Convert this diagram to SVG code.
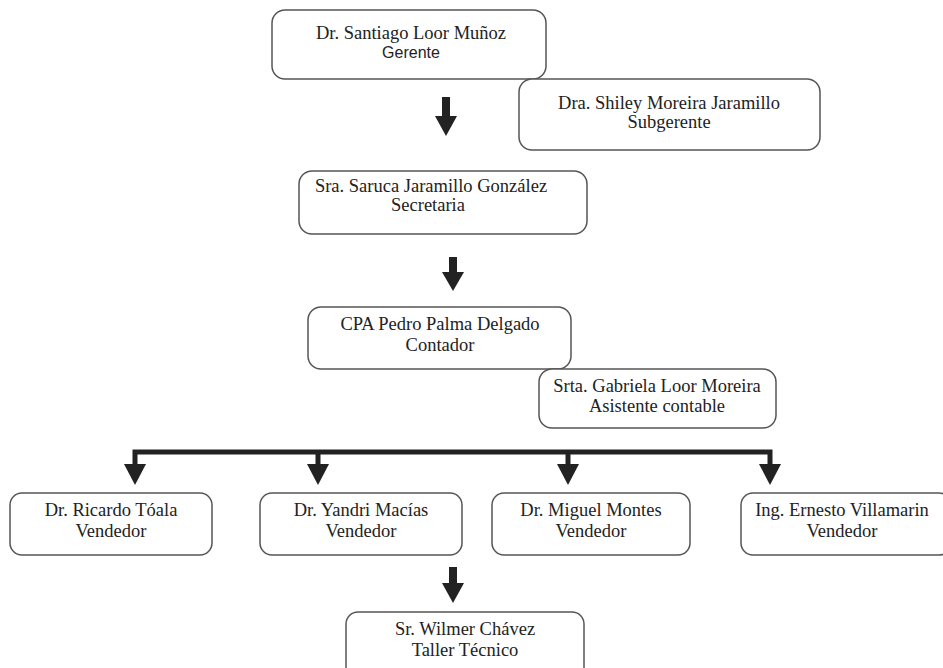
<svg xmlns="http://www.w3.org/2000/svg" width="943" height="668" viewBox="0 0 943 668">
<defs>
<style>
.box{fill:#fff;stroke:#555;stroke-width:1.5}
.t{font-family:"Liberation Serif","Times New Roman",serif;font-size:18.5px;fill:#222;text-anchor:middle}
.s{font-family:"Liberation Sans",Arial,sans-serif;font-size:16px;fill:#222;text-anchor:middle}
.ln{stroke:#222;stroke-width:5;fill:none}
.ar{fill:#222}
</style>
</defs>
<rect width="943" height="668" fill="#fff"/>
<g id="connectors">
<g id="a1"><rect class="ar" x="442" y="97" width="8" height="20"/><polygon class="ar" points="435,116 457,116 446,136"/></g>
<g id="a2"><rect class="ar" x="449" y="257" width="8" height="16"/><polygon class="ar" points="442,272 464,272 453,291"/></g>
<path class="ln" d="M135,465 V452 H770 V465"/>
<path class="ln" d="M318,452 V465 M568,452 V465"/>
<polygon class="ar" points="124,464 146,464 135,485"/>
<polygon class="ar" points="307,464 329,464 318,485"/>
<polygon class="ar" points="557,464 579,464 568,485"/>
<polygon class="ar" points="759,464 781,464 770,485"/>
<g id="a3"><rect class="ar" x="449" y="567" width="8" height="17"/><polygon class="ar" points="442,583 464,583 453,603"/></g>
</g>
<g id="gerente"><rect class="box" x="272" y="10" width="274" height="69" rx="13"/><text class="t" x="411" y="39">Dr. Santiago Loor Muñoz</text><text class="s" x="411" y="58">Gerente</text></g>
<g id="subgerente"><rect class="box" x="519" y="79" width="301" height="71" rx="13"/><text class="t" x="669" y="109">Dra. Shiley Moreira Jaramillo</text><text class="t" x="669" y="128">Subgerente</text></g>
<g id="secretaria"><rect class="box" x="299" y="171" width="288" height="63" rx="13"/><text class="t" x="431" y="192">Sra. Saruca Jaramillo González</text><text class="t" x="428" y="211">Secretaria</text></g>
<g id="contador"><rect class="box" x="308" y="307" width="263" height="62" rx="13"/><text class="t" x="440" y="330">CPA Pedro Palma Delgado</text><text class="t" x="440" y="351">Contador</text></g>
<g id="asistente"><rect class="box" x="539" y="369" width="237" height="59" rx="13"/><text class="t" x="657" y="392">Srta. Gabriela Loor Moreira</text><text class="t" x="657" y="412">Asistente contable</text></g>
<g id="v1"><rect class="box" x="10" y="493" width="202" height="62" rx="12"/><text class="t" x="111" y="516">Dr. Ricardo Tóala</text><text class="t" x="111" y="537">Vendedor</text></g>
<g id="v2"><rect class="box" x="260" y="493" width="202" height="62" rx="12"/><text class="t" x="361" y="516">Dr. Yandri Macías</text><text class="t" x="361" y="537">Vendedor</text></g>
<g id="v3"><rect class="box" x="492" y="493" width="198" height="62" rx="12"/><text class="t" x="591" y="516">Dr. Miguel Montes</text><text class="t" x="591" y="537">Vendedor</text></g>
<g id="v4"><rect class="box" x="741" y="493" width="210" height="62" rx="12"/><text class="t" x="842" y="516">Ing. Ernesto Villamarin</text><text class="t" x="842" y="537">Vendedor</text></g>
<g id="taller"><rect class="box" x="346" y="612" width="238" height="70" rx="12"/><text class="t" x="465" y="635">Sr. Wilmer Chávez</text><text class="t" x="465" y="656">Taller Técnico</text></g>
</svg>
